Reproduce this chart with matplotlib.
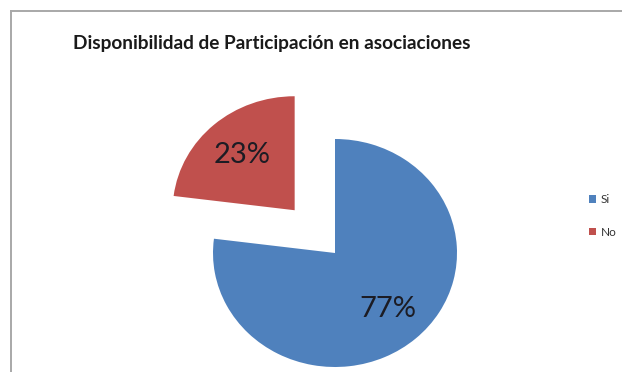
import matplotlib.pyplot as plt
from matplotlib.lines import Line2D

# chart data
labels = ['Si', 'No']
values = [77, 23]
colors = ['#4F81BD', '#C0504D']
explode = [0, 0.5]

W, H = 622, 372
fig = plt.figure(figsize=(W / 100, H / 100), dpi=100)
ax = fig.add_axes([0, 0, 1, 1])

wedges, texts, autotexts = ax.pie(values, colors=colors, explode=explode,
                                  startangle=90, counterclock=False,
                                  autopct='%1.0f%%', pctdistance=0.65,
                                  textprops={'fontsize': 21, 'color': '#1c1c24',
                                             'family': 'Lato'})

# pie centre at pixel (335, 253), radius 122 px wide / 114 px tall
cx, cy, rx, ry = 335, 253, 122, 114
ax.set_aspect('auto')
ax.set_xlim(-cx / rx, (W - cx) / rx)
ax.set_ylim(-(H - cy) / ry, cy / ry)
ax.axis('off')

fig.text(272 / W, 1 - 43 / H, 'Disponibilidad de Participación en asociaciones',
         ha='center', va='center', fontsize=13.7, fontweight='bold', family='Lato',
         color='#1a1a1a')

ax.legend(wedges, labels, loc='center left', bbox_to_anchor=(578 / W, 1 - 216 / H),
          bbox_transform=fig.transFigure, frameon=False,
          handlelength=0.6, handleheight=0.6, handletextpad=0.4, labelspacing=1.8,
          prop={'family': 'Lato', 'size': 8.5}, labelcolor='#333333')

# chart area border (top and left)
fig.add_artist(Line2D([11 / W, 1], [1 - 11 / H, 1 - 11 / H], transform=fig.transFigure,
                      color='#a8a8a8', lw=1.4))
fig.add_artist(Line2D([11 / W, 11 / W], [0, 1 - 11 / H], transform=fig.transFigure,
                      color='#a8a8a8', lw=1.4))

fig.savefig('out.png', dpi=100)
